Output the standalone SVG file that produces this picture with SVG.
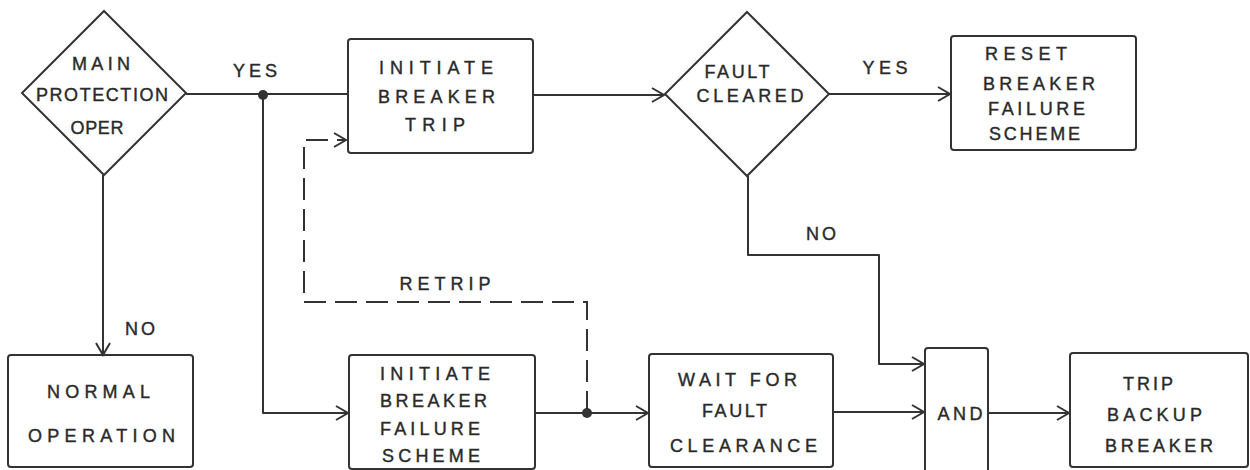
<svg xmlns="http://www.w3.org/2000/svg" width="1250" height="470" viewBox="0 0 1250 470">
<style>
.n{fill:none;stroke:#333;stroke-width:2}
.c{fill:none;stroke:#333;stroke-width:2;stroke-linejoin:round}
.d{fill:none;stroke:#333;stroke-width:2;stroke-dasharray:22 9}
.t{font-family:"Liberation Sans",Arial,sans-serif;font-size:18px;fill:#2a2a2a;stroke:#2a2a2a;stroke-width:0.4;text-anchor:middle}
.s{text-anchor:start}
.dot{fill:#333}
</style>
<defs>
<marker id="a" markerUnits="userSpaceOnUse" markerWidth="16" markerHeight="16" refX="13" refY="8" orient="auto">
<path d="M1,1 L13,8 L1,15" fill="none" stroke="#333" stroke-width="2"/>
</marker>
</defs>
<rect width="1250" height="470" fill="#fff"/>
<g id="connectors">
<path class="c" d="M186,94 H348"/>
<path class="c" d="M263,95 V413 H348" marker-end="url(#a)"/>
<path class="c" d="M103,175 V355" marker-end="url(#a)"/>
<path class="c" d="M533,95 H664" marker-end="url(#a)"/>
<path class="c" d="M829,94 H950" marker-end="url(#a)"/>
<path class="c" d="M748,176 V255 H879 V364 H924" marker-end="url(#a)"/>
<path class="c" d="M535,413 H648" marker-end="url(#a)"/>
<path class="d" d="M587,413 V302 H304 V140 H346" marker-end="url(#a)"/>
<path class="c" d="M833,412 H924" marker-end="url(#a)"/>
<path class="c" d="M988,413 H1069" marker-end="url(#a)"/>
<circle class="dot" cx="263" cy="95" r="5"/>
<circle class="dot" cx="587" cy="413" r="5"/>
<text class="t" x="255" y="76.5" textLength="44">YES</text>
<text class="t" x="885" y="73.5" textLength="45">YES</text>
<text class="t" x="821" y="239.5" textLength="30">NO</text>
<text class="t" x="140" y="334.5" textLength="30">NO</text>
<text class="t" x="445" y="289.5" textLength="91">RETRIP</text>
</g>
<g id="main-protection">
<polygon class="n" points="104,11 186,93 104,175 22,93"/>
<text class="t" x="101" y="69.5" textLength="58">MAIN</text>
<text class="t" x="102" y="100.5" textLength="132">PROTECTION</text>
<text class="t" x="97" y="133.5" textLength="53">OPER</text>
</g>
<g id="initiate-trip">
<rect class="n" x="348" y="39" width="185" height="114" rx="3"/>
<text class="t" x="436" y="73.5" textLength="114">INITIATE</text>
<text class="t" x="436.5" y="102.5" textLength="117">BREAKER</text>
<text class="t" x="435" y="130.5" textLength="60">TRIP</text>
</g>
<g id="fault-cleared">
<polygon class="n" points="747,12 829,94 747,176 665,94"/>
<text class="t" x="737" y="77.5" textLength="65">FAULT</text>
<text class="t" x="750" y="101.5" textLength="107">CLEARED</text>
</g>
<g id="reset">
<rect class="n" x="951" y="36" width="185" height="114" rx="3"/>
<text class="t s" x="985" y="59.5" textLength="82">RESET</text>
<text class="t s" x="983" y="89.5" textLength="112">BREAKER</text>
<text class="t s" x="988" y="114.5" textLength="97">FAILURE</text>
<text class="t s" x="989" y="139.5" textLength="91">SCHEME</text>
</g>
<g id="normal-operation">
<rect class="n" x="8" y="355" width="185" height="112" rx="3"/>
<text class="t" x="98.5" y="397.5" textLength="103">NORMAL</text>
<text class="t" x="101.5" y="442" textLength="147">OPERATION</text>
</g>
<g id="initiate-bf">
<rect class="n" x="349" y="355" width="186" height="114" rx="3"/>
<text class="t s" x="380" y="379.5" textLength="110">INITIATE</text>
<text class="t s" x="380" y="406.5" textLength="107">BREAKER</text>
<text class="t s" x="380" y="434.5" textLength="100">FAILURE</text>
<text class="t s" x="382" y="461.5" textLength="98">SCHEME</text>
</g>
<g id="wait">
<rect class="n" x="649" y="354" width="184" height="113" rx="3"/>
<text class="t" x="737.5" y="385.5" textLength="119">WAIT FOR</text>
<text class="t" x="734.5" y="416.5" textLength="65">FAULT</text>
<text class="t" x="743.5" y="451.5" textLength="147">CLEARANCE</text>
</g>
<g id="and">
<path class="n" d="M925,471 V351 Q925,348 928,348 H985 Q988,348 988,351 V471"/>
<text class="t" x="960" y="419.5" textLength="45">AND</text>
</g>
<g id="trip-backup">
<rect class="n" x="1070" y="353" width="178" height="114" rx="3"/>
<text class="t" x="1148" y="389.5" textLength="50">TRIP</text>
<text class="t" x="1154.5" y="420.5" textLength="95">BACKUP</text>
<text class="t" x="1159" y="451.5" textLength="108">BREAKER</text>
</g>
</svg>
